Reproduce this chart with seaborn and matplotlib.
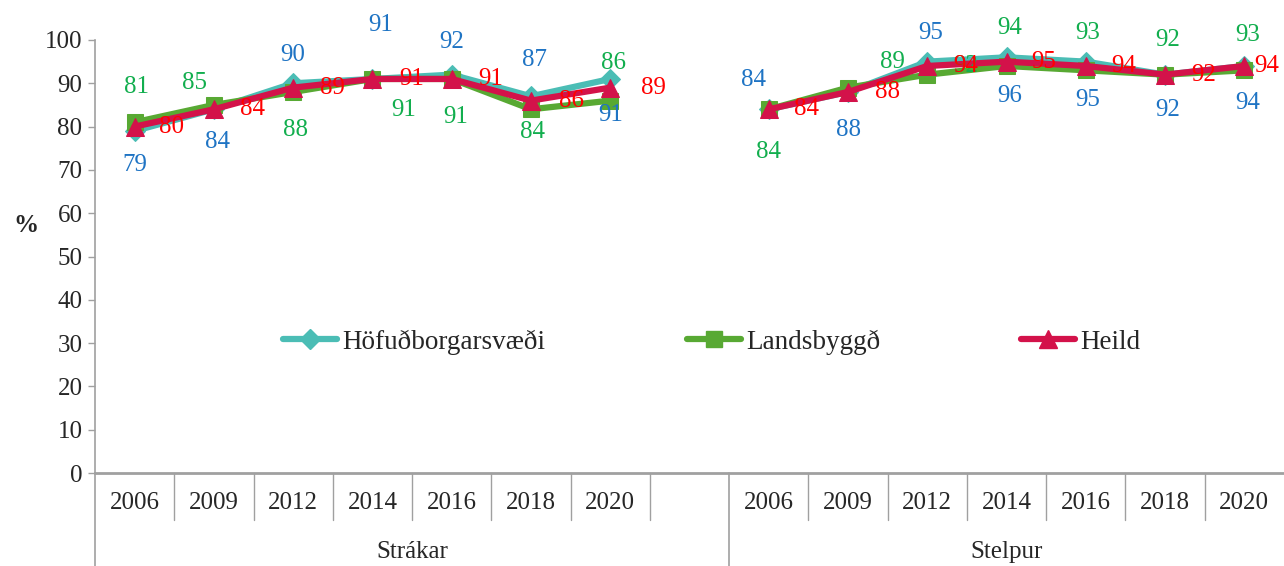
import numpy as np
import pandas as pd
import matplotlib
matplotlib.use('Agg')
import matplotlib.pyplot as plt
from matplotlib.lines import Line2D
import seaborn as sns

# ---------------- data ----------------
years = ['2006', '2009', '2012', '2014', '2016', '2018', '2020']
groups = ['Strákar', 'Stelpur']
series_names = ['Höfuðborgarsvæði', 'Landsbyggð', 'Heild']

hofud_strakar = [79, 84, 90, 91, 92, 87, 91]
hofud_stelpur = [84, 88, 95, 96, 95, 92, 94]
lands_strakar = [81, 85, 88, 91, 91, 84, 86]
lands_stelpur = [84, 89, 92, 94, 93, 92, 93]
heild_strakar = [80, 84, 89, 91, 91, 86, 89]
heild_stelpur = [84, 88, 94, 95, 94, 92, 94]

values = {
    'Höfuðborgarsvæði': [hofud_strakar, hofud_stelpur],
    'Landsbyggð': [lands_strakar, lands_stelpur],
    'Heild': [heild_strakar, heild_stelpur],
}

# ---------------- style ----------------
line_colors = {'Höfuðborgarsvæði': '#4BBDB5', 'Landsbyggð': '#58A933', 'Heild': '#D3124A'}
label_colors = {'Höfuðborgarsvæði': '#1F74C4', 'Landsbyggð': '#12AE4E', 'Heild': '#FF0000'}
markers = {'Höfuðborgarsvæði': 'D', 'Landsbyggð': 's', 'Heild': '^'}
msizes = {'Höfuðborgarsvæði': 10, 'Landsbyggð': 12, 'Heild': 13}
# label offsets in pixels (dx, dy with dy downward), per series and group
label_offsets = {
    'Höfuðborgarsvæði': [
        [(0, 34), (4, 33), (0, -28), (8, -54), (0, -33), (4, -36), (0, 36)],
        [(-15, -29), (0, 38), (3, -29), (3, 39), (2, 38), (3, 35), (3, 37)],
    ],
    'Landsbyggð': [
        [(2, -35), (-19, -22), (2, 38), (31, 31), (4, 38), (2, 23), (3, -38)],
        [(0, 43), (44, -26), (38, -9), (3, -38), (2, -37), (3, -35), (3, -35)],
    ],
    'Heild': [
        [(37, 0), (39, 0), (39, 0), (39, 0), (39, 0), (41, 0), (43, 0)],
        [(38, 0), (39, 0), (38, 0), (37, 0), (38, 0), (39, 0), (22, 0)],
    ],
}

FS = 18
gray = '#A0A0A0'
serif = ['Liberation Serif', 'DejaVu Serif']

sns.set_theme(style='white')
plt.rcParams['font.family'] = serif

# build tidy frame
rows = []
for s in series_names:
    for gi, g in enumerate(groups):
        for yi, y in enumerate(years):
            rows.append({'series': s, 'group': g, 'year': y,
                         'pos': yi + gi * 8, 'value': values[s][gi][yi]})
df = pd.DataFrame(rows)

fig = plt.figure(figsize=(12.84, 5.66), dpi=100)
ax = fig.add_axes([95 / 1284, 1 - 473 / 566, 1 - 95 / 1284, (473 - 40) / 566])

for s in series_names:
    sub = df[df['series'] == s]
    sns.lineplot(data=sub, x='pos', y='value', units='group', estimator=None,
                 color=line_colors[s], marker=markers[s], markersize=msizes[s],
                 markeredgecolor=line_colors[s], linewidth=4.5, ax=ax,
                 legend=False, zorder=3)

# data labels
for s in series_names:
    sub = df[df['series'] == s]
    for gi, g in enumerate(groups):
        gsub = sub[sub['group'] == g]
        for k, (_, r) in enumerate(gsub.iterrows()):
            dx, dy = label_offsets[s][gi][k]
            ax.annotate(str(r['value']), (r['pos'], r['value']),
                        xytext=(dx, -dy), textcoords='offset pixels',
                        ha='center', va='center', fontsize=FS,
                        color=label_colors[s], zorder=5, annotation_clip=False)

ax.set_xlim(-0.5, 14.5)
ax.set_ylim(0, 100)
ax.set_yticks(range(0, 101, 10))
ax.tick_params(axis='y', which='both', left=True, length=5, width=1, color=gray,
               labelsize=FS, pad=4, direction='out')
positions = list(range(7)) + list(range(8, 15))
ax.set_xticks(positions)
ax.set_xticklabels(years + years)
ax.tick_params(axis='x', length=0, labelsize=FS, pad=14)

for side in ['top', 'right']:
    ax.spines[side].set_visible(False)
ax.spines['left'].set_color(gray)
ax.spines['bottom'].set_color(gray)
ax.spines['left'].set_linewidth(1.2)
ax.spines['bottom'].set_linewidth(2)
ax.set_xlabel('')
ax.set_ylabel('%', rotation=0, fontsize=FS, fontweight='bold')
ax.yaxis.set_label_coords(-0.058, 0.545)

# category separators
trans = ax.get_xaxis_transform()
short_y = -47 / 433
long_y = -93 / 433
for b in [0.5, 1.5, 2.5, 3.5, 4.5, 5.5, 6.5, 8.5, 9.5, 10.5, 11.5, 12.5, 13.5]:
    ax.plot([b, b], [0, short_y], transform=trans, color=gray, lw=1, clip_on=False)
for b in [-0.5, 7.5]:
    ax.plot([b, b], [0, long_y], transform=trans, color=gray, lw=1.2, clip_on=False)
for gi, g in enumerate(groups):
    ax.text(3.5 if gi == 0 else 11, -79 / 433, g, transform=trans,
            ha='center', va='center', fontsize=FS)

# legend
handles = [Line2D([], [], color=line_colors[s], marker=markers[s], markersize=msizes[s],
                  markeredgecolor=line_colors[s], linewidth=4.5) for s in series_names]
ax.legend(handles, series_names, loc='center', ncol=3, frameon=False,
          bbox_to_anchor=(712 / 1284, 1 - 342 / 566), bbox_transform=fig.transFigure,
          fontsize=19.5, handlelength=2.0, handletextpad=0.2, columnspacing=5.2)

fig.savefig('out.png', dpi=100, facecolor='white')
